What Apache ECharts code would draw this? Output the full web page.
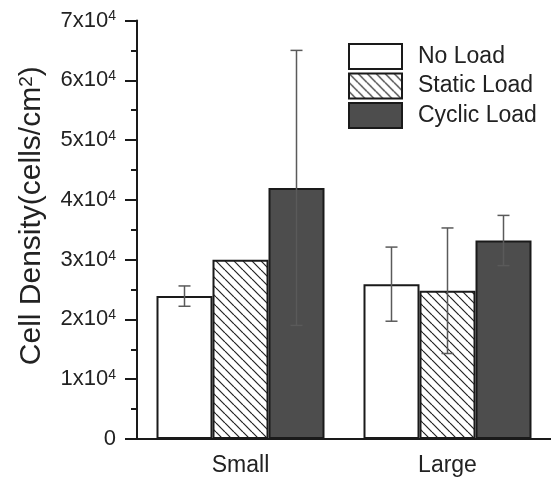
<!DOCTYPE html>
<html>
<head>
<meta charset="utf-8">
<script src="https://cdn.jsdelivr.net/npm/echarts@6/dist/echarts.min.js"></script>
<style>
html,body{margin:0;padding:0;background:#fff;}
#chart{width:551px;height:478px;}
</style>
</head>
<body>
<div id="chart"></div>
<script>
// ---- data ----
const categories = ['Small', 'Large'];
const seriesNames = ['No Load', 'Static Load', 'Cyclic Load'];
const noLoad = [23900, 25900];
const staticLoad = [30000, 24800];
const cyclicLoad = [42000, 33200];
const noLoadErr = [1700, 6200];
const staticLoadErr = [0, 10500];
const cyclicLoadErr = [23000, 4200];
const yTicks = [0, 10000, 20000, 30000, 40000, 50000, 60000, 70000];

const FONT = '"Liberation Sans", Arial, sans-serif';
const BAR_W = 56;

// hatch pattern
function makeHatch() {
  const s = 9;
  const c = document.createElement('canvas');
  c.width = s; c.height = s;
  const ctx = c.getContext('2d');
  ctx.fillStyle = '#ffffff';
  ctx.fillRect(0, 0, s, s);
  ctx.strokeStyle = '#222';
  ctx.lineWidth = 1.2;
  for (let k = -1; k <= 1; k++) {
    ctx.beginPath();
    ctx.moveTo(k * s, 0);
    ctx.lineTo(k * s + s, s);
    ctx.stroke();
  }
  return c;
}
const hatch = makeHatch();

const values = [noLoad, staticLoad, cyclicLoad];
const errs = [noLoadErr, staticLoadErr, cyclicLoadErr];
const fills = ['#ffffff', { image: hatch, repeat: 'repeat' }, '#4d4d4d'];

const series = [];
values.forEach((vals, i) => {
  series.push({
    name: seriesNames[i],
    type: 'bar',
    data: vals,
    barWidth: BAR_W,
    barGap: '0%',
    itemStyle: { color: fills[i], borderColor: '#1a1a1a', borderWidth: 2 },
    emphasis: { disabled: true },
    z: 2
  });
});
errs.forEach((ev, i) => {
  const data = ev.map((e, j) => [j, values[i][j] - e, values[i][j] + e, e]);
  series.push({
    name: 'err' + i,
    type: 'custom',
    data: data,
    z: 5,
    renderItem: function (params, api) {
      const e = api.value(3);
      if (!e) return null;
      const cat = api.value(0);
      const top = api.coord([cat, api.value(2)]);
      const bot = api.coord([cat, api.value(1)]);
      const x = top[0] + (i - 1) * BAR_W;
      const cap = 6;
      const st = { stroke: '#5a5a5a', lineWidth: 1.5 };
      return {
        type: 'group',
        children: [
          { type: 'line', shape: { x1: x, y1: top[1], x2: x, y2: bot[1] }, style: st },
          { type: 'line', shape: { x1: x - cap, y1: top[1], x2: x + cap, y2: top[1] }, style: st },
          { type: 'line', shape: { x1: x - cap, y1: bot[1], x2: x + cap, y2: bot[1] }, style: st }
        ]
      };
    }
  });
});

const chart = echarts.init(document.getElementById('chart'), null, { renderer: 'canvas' });
chart.setOption({
  animation: false,
  backgroundColor: '#ffffff',
  textStyle: { fontFamily: FONT },
  grid: { left: 137, top: 20.5, width: 419, height: 418.5, containLabel: false },
  legend: {
    data: seriesNames.map(n => ({ name: n, icon: 'rect' })),
    orient: 'vertical',
    left: 348,
    top: 43,
    padding: 0,
    itemWidth: 53,
    itemHeight: 25,
    itemGap: 2.5,
    selectedMode: false,
    textStyle: { fontSize: 23, color: '#222', fontFamily: FONT, padding: [0, 0, 0, 11] }
  },
  xAxis: {
    type: 'category',
    data: categories,
    axisLine: { lineStyle: { color: '#1a1a1a', width: 2 } },
    axisTick: { show: false },
    axisLabel: { fontSize: 23, color: '#222', margin: 15, fontFamily: FONT },
    splitLine: { show: false }
  },
  yAxis: {
    type: 'value',
    min: yTicks[0],
    max: yTicks[yTicks.length - 1],
    interval: yTicks[1] - yTicks[0],
    name: '{t|Cell Density(cells/cm}{s|2}{t|)}',
    nameLocation: 'middle',
    nameGap: 90,
    nameTextStyle: {
      padding: [0, 0, 0, 28],
      rich: {
        t: { fontSize: 30, color: '#222', fontFamily: FONT },
        s: { fontSize: 19, color: '#222', fontFamily: FONT, verticalAlign: 'top', lineHeight: 19 }
      }
    },
    axisLine: { show: true, lineStyle: { color: '#1a1a1a', width: 2 } },
    axisTick: { show: true, length: 12, lineStyle: { color: '#1a1a1a', width: 2 } },
    minorTick: { show: true, splitNumber: 2, length: 6, lineStyle: { color: '#1a1a1a', width: 2 } },
    splitLine: { show: false },
    axisLabel: {
      margin: 21,
      formatter: function (v) {
        return v === 0 ? '{b|0}' : '{b|' + (v / 10000) + 'x10}{s|4}';
      },
      rich: {
        b: { fontSize: 22, color: '#222', fontFamily: FONT },
        s: { fontSize: 14, color: '#222', fontFamily: FONT, verticalAlign: 'top', lineHeight: 14 }
      }
    }
  },
  series: series
});
</script>
</body>
</html>
